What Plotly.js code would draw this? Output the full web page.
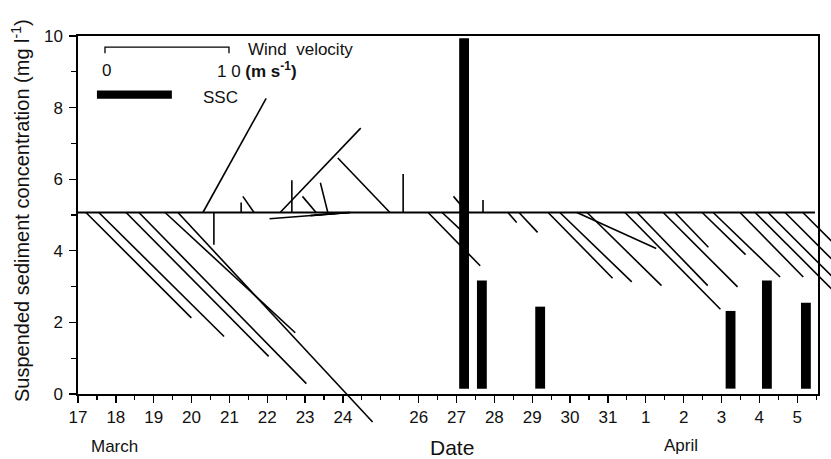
<!DOCTYPE html>
<html>
<head>
<meta charset="utf-8">
<script src="https://cdn.plot.ly/plotly-3.0.1.min.js"></script>
<style>html,body{margin:0;padding:0;background:#fff;}#chart{width:831px;height:459px;}</style>
</head>
<body>
<div id="chart"></div>
<script>
// ---- Data ----
// Day axis: March days as-is, April days continue (April 1 = 32)
const tickDays   = [17,18,19,20,21,22,23,24,26,27,28,29,30,31,32,33,34,35,36];
const tickLabels = ['17','18','19','20','21','22','23','24','26','27','28','29','30','31','1','2','3','4','5'];

// Suspended sediment concentration (mg/l)
const sscTimes  = [27.20, 27.67, 29.21, 34.24, 35.20, 36.23];
const sscValues = [9.94, 3.17, 2.44, 2.32, 3.17, 2.55];

// Wind sticks: time (day), east component u and north component v (m/s)
const windTime = [17.21,17.55,18.27,18.61,19.30,19.64,20.30,20.59,21.31,21.65,22.34,22.65,23.29,23.60,
                  24.19,24.19,24.10,25.24,25.59,26.25,26.62,27.28,27.70,28.36,28.65,29.42,29.73,30.18,
                  30.45,31.45,31.77,32.46,32.77,33.49,33.78,34.49,34.89,35.23,35.68,36.15];
const windU    = [8.5,10.1,11.5,13.5,10.5,15.7,5.1,0.0,0.0,-0.9,6.5,0.0,-1.1,-0.6,
                  -6.5,-3.2,-2.6,-4.2,0.0,4.2,1.6,-1.1,0.0,0.7,1.5,5.2,5.8,6.4,
                  6.0,7.7,5.7,6.0,2.7,3.5,5.4,5.1,6.5,5.5,5.0,4.5];
const windV    = [-8.5,-10.0,-11.6,-13.8,-9.7,-16.9,9.2,-2.6,0.8,1.3,6.8,2.6,1.3,2.4,
                  -0.5,-0.25,-0.2,4.4,3.1,-4.3,-1.5,1.3,1.0,-0.8,-1.6,-5.3,-5.6,-2.9,
                  -5.9,-7.8,-5.9,-6.0,-2.8,-3.4,-5.2,-5.2,-6.5,-5.5,-5.0,-4.5];

// ---- Layout geometry ----
const W = 831, H = 459;
const M = {l: 78, r: 0, t: 36, b: 0};
const xRange = [17, 36.55];
const yRange = [0, 10];
const xDom = [0, 740 / (W - M.l - M.r)];
const yDom = [65 / (H - M.t - M.b), 1];
const plotW = (W - M.l - M.r) * (xDom[1] - xDom[0]);
const plotH = (H - M.t - M.b) * (yDom[1] - yDom[0]);
const pxPerDay = plotW / (xRange[1] - xRange[0]);
const pxPerUnit = plotH / (yRange[1] - yRange[0]);
// overlay axes covering the whole paper with identical scale (so sticks may run past the frame)
const x2Range = [xRange[0], xRange[0] + (W - M.l - M.r) / pxPerDay];
const y2Range = [yRange[1] - (H - M.t - M.b) / pxPerUnit, yRange[1]];

const WIND_BASE = 5.07;          // stick baseline on the y axis
const PX_PER_MS = 12.4;          // stick length scale (10 m/s = 124 px)
const KX = PX_PER_MS / pxPerDay;
const KY = PX_PER_MS / pxPerUnit;

const sx = [], sy = [];
for (let i = 0; i < windTime.length; i++) {
  sx.push(windTime[i], windTime[i] + windU[i] * KX, null);
  sy.push(WIND_BASE, WIND_BASE + windV[i] * KY, null);
}

// scale bracket for legend: 0 .. 10 m/s
const scX0 = 17.713, scY = 9.69, scTick = 0.17;
const scX1 = scX0 + 10 * KX;

const FONT = 'Liberation Sans, Arial, Helvetica, sans-serif';
const INK = '#111';

const traces = [
  {
    type: 'bar', x: sscTimes, y: sscValues.map(v => v - 0.15), base: 0.15,
    width: 0.26, marker: {color: '#000', line: {width: 0}},
    xaxis: 'x', yaxis: 'y', showlegend: false, hoverinfo: 'skip'
  },
  {
    type: 'scatter', mode: 'lines', x: sx, y: sy, connectgaps: false,
    line: {color: '#000', width: 1.6}, xaxis: 'x2', yaxis: 'y2',
    showlegend: false, hoverinfo: 'skip'
  },
  {
    type: 'scatter', mode: 'lines',
    x: [scX0, scX0, scX1, scX1], y: [scY - scTick, scY, scY, scY - scTick],
    line: {color: '#000', width: 1.3}, xaxis: 'x2', yaxis: 'y2',
    showlegend: false, hoverinfo: 'skip'
  }
];

const px = p => (p - M.l) / (W - M.l - M.r);
const py = p => (H - p) / (H - M.t - M.b);

const layout = {
  width: W, height: H, margin: M,
  paper_bgcolor: '#fff', plot_bgcolor: 'rgba(0,0,0,0)',
  showlegend: false,
  font: {family: FONT, color: INK, size: 17},
  xaxis: {
    domain: xDom, range: xRange, anchor: 'y',
    tickmode: 'array', tickvals: tickDays, ticktext: tickLabels,
    ticks: 'outside', ticklen: 7, tickwidth: 1.3, tickcolor: '#000',
    minor: {dtick: 0.5, tick0: 17, ticks: 'outside', ticklen: 4, tickwidth: 1.2, tickcolor: '#000'},
    showline: true, linecolor: '#000', linewidth: 1.6, mirror: true,
    showgrid: false, zeroline: false,
    tickfont: {size: 17, family: FONT, color: INK}
  },
  yaxis: {
    domain: yDom, range: yRange, anchor: 'x',
    tickmode: 'array', tickvals: [0,2,4,6,8,10],
    ticks: 'outside', ticklen: 7, tickwidth: 1.3, tickcolor: '#000',
    minor: {dtick: 1, ticks: 'outside', ticklen: 5, tickwidth: 1.2, tickcolor: '#000'},
    showline: true, linecolor: '#000', linewidth: 1.6, mirror: true,
    showgrid: false, zeroline: false, ticklabelstandoff: 3,
    tickfont: {size: 17, family: FONT, color: INK}
  },
  xaxis2: {domain: [0, 1], range: x2Range, anchor: 'y2', visible: false, fixedrange: true},
  yaxis2: {domain: [0, 1], range: y2Range, anchor: 'x2', visible: false, fixedrange: true},
  shapes: [
    {type: 'line', xref: 'x', yref: 'y', x0: 17, x1: 36.47, y0: WIND_BASE, y1: WIND_BASE,
     line: {color: '#000', width: 1.8}},
    {type: 'rect', xref: 'x', yref: 'y', x0: 17.50, x1: 19.48, y0: 8.25, y1: 8.48,
     fillcolor: '#000', line: {width: 0}}
  ],
  annotations: [
    {text: 'Suspended sediment concentration (mg l<sup>-1</sup>)', xref: 'paper', yref: 'paper',
     x: px(20), y: py(211), textangle: -90, showarrow: false, font: {size: 20},
     xanchor: 'center', yanchor: 'middle'},
    {text: 'Date', xref: 'paper', yref: 'paper', x: px(452), y: py(447), showarrow: false,
     font: {size: 21}, xanchor: 'center', yanchor: 'middle'},
    {text: 'March', xref: 'paper', yref: 'paper', x: px(114), y: py(446), showarrow: false,
     font: {size: 17}, xanchor: 'center', yanchor: 'middle'},
    {text: 'April', xref: 'paper', yref: 'paper', x: px(681), y: py(445), showarrow: false,
     font: {size: 17}, xanchor: 'center', yanchor: 'middle'},
    {text: 'Wind  velocity', xref: 'paper', yref: 'paper', x: px(246), y: py(49), showarrow: false,
     font: {size: 17}, xanchor: 'left', yanchor: 'middle'},
    {text: '0', xref: 'paper', yref: 'paper', x: px(106), y: py(70), showarrow: false,
     font: {size: 17}, xanchor: 'center', yanchor: 'middle'},
    {text: '1 0 <b>(m s<sup>-1</sup>)</b>', xref: 'paper', yref: 'paper', x: px(215), y: py(70),
     showarrow: false, font: {size: 17}, xanchor: 'left', yanchor: 'middle'},
    {text: 'SSC', xref: 'paper', yref: 'paper', x: px(201), y: py(97), showarrow: false,
     font: {size: 17}, xanchor: 'left', yanchor: 'middle'}
  ]
};

Plotly.newPlot('chart', traces, layout, {staticPlot: true, displayModeBar: false});
</script>
</body>
</html>
